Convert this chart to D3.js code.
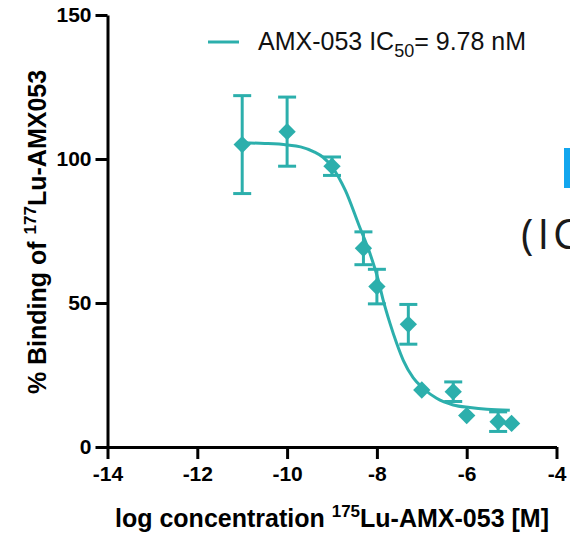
<!DOCTYPE html>
<html>
<head>
<meta charset="utf-8">
<script src="https://cdn.jsdelivr.net/npm/d3@7"></script>
<style>
    html, body { margin: 0; padding: 0; background: #fff; overflow: hidden; }
    svg { display: block; }
</style>
</head>
<body>
<div id="chart"></div>
<script>
// measured points: log concentration vs % binding (mean, error; 0 = bar hidden by marker)
const logConc = [-11, -10, -9, -8.3, -8, -7.3, -7, -6.3, -6, -5.3, -5];
const binding = [105, 109.5, 97.5, 69, 55.7, 42.6, 19.8, 19.2, 10.9, 8.8, 8.2];
const errBar = [17, 12, 3.2, 5.7, 6, 6.9, 0, 3.4, 0, 3.4, 0];

// fitted curve
const curveX = [-11, -10.5, -10, -9.7, -9.4, -9.2, -9, -8.7, -8.4, -8.15, -7.97, -7.86, -7.71, -7.56, -7.41, -7.19, -6.97, -6.67, -6.3, -5.93, -5.55, -5.04];
const curveY = [105.6, 105.4, 104.9, 104.2, 102.5, 100.6, 97.3, 89, 77, 67, 58, 51, 43, 36, 30, 24, 20.4, 16.9, 14.6, 13.7, 13.1, 12.8];

const xTicks = [-14, -12, -10, -8, -6, -4];
const yTicks = [0, 50, 100, 150];

const teal = '#2cafac';
const font = '"Liberation Sans", Arial, Helvetica, sans-serif';

const width = 570;
const height = 535;

const svg = d3.select('#chart')
    .append('svg')
    .attr('width', width)
    .attr('height', height)
    .style('font-family', font);

const xScale = d3.scaleLinear().domain([-14, -4]).range([107.5, 556.5]);
const yScale = d3.scaleLinear().domain([0, 150]).range([447, 15]);

// axes (plain hyphen for negatives, like the original)
const xAxis = svg.append('g')
    .attr('transform', `translate(0,${yScale(0)})`)
    .call(d3.axisBottom(xScale).tickValues(xTicks).tickFormat((d) => String(d))
        .tickSize(12).tickSizeOuter(0).tickPadding(7));

const yAxis = svg.append('g')
    .attr('transform', `translate(${xScale(-14)},0)`)
    .call(d3.axisLeft(yScale).tickValues(yTicks).tickFormat((d) => String(d))
        .tickSize(12).tickSizeOuter(0).tickPadding(4));

[xAxis, yAxis].forEach((ax) => {
    ax.select('.domain').attr('stroke', '#000').attr('stroke-width', 3);
    ax.selectAll('.tick line').attr('stroke', '#000').attr('stroke-width', 3);
    ax.selectAll('.tick text')
        .attr('fill', '#000')
        .style('font-family', font)
        .style('font-size', '21px')
        .style('font-weight', 'bold');
});

// axis titles
const xTitle = svg.append('text')
    .attr('x', (xScale(-14) + xScale(-4)) / 2)
    .attr('y', 527)
    .attr('text-anchor', 'middle')
    .style('font-size', '25px')
    .style('font-weight', 'bold');
xTitle.append('tspan').text('log concentration ');
xTitle.append('tspan').attr('dy', -10).style('font-size', '17px').text('175');
xTitle.append('tspan').attr('dy', 10).text('Lu-AMX-053 [M]');

const yTitle = svg.append('text')
    .attr('transform', `translate(46,${(yScale(0) + yScale(150)) / 2 + 1}) rotate(-90)`)
    .attr('text-anchor', 'middle')
    .style('font-size', '25px')
    .style('font-weight', 'bold');
yTitle.append('tspan').text('% Binding of ');
yTitle.append('tspan').attr('dy', -10).style('font-size', '17px').text('177');
yTitle.append('tspan').attr('dy', 10).text('Lu-AMX053');

// fitted curve
const line = d3.line()
    .x((d) => xScale(d[0]))
    .y((d) => yScale(d[1]))
    .curve(d3.curveMonotoneX);

svg.append('path')
    .datum(curveX.map((x, i) => [x, curveY[i]]))
    .attr('fill', 'none')
    .attr('stroke', teal)
    .attr('stroke-width', 3)
    .attr('d', line);

// error bars
const pts = logConc.map((x, i) => ({ x: x, y: binding[i], e: errBar[i] }));
const bars = svg.append('g').attr('stroke', teal).attr('stroke-width', 3);
pts.filter((p) => p.e > 0).forEach((p) => {
    const cx = xScale(p.x);
    bars.append('line')
        .attr('x1', cx).attr('x2', cx)
        .attr('y1', yScale(p.y + p.e)).attr('y2', yScale(p.y - p.e));
    [p.y + p.e, p.y - p.e].forEach((v) => {
        bars.append('line')
            .attr('x1', cx - 9).attr('x2', cx + 9)
            .attr('y1', yScale(v)).attr('y2', yScale(v));
    });
});

// diamonds
const diamond = d3.symbol().type(d3.symbolSquare).size(150);
svg.append('g')
    .selectAll('path')
    .data(pts)
    .enter()
    .append('path')
    .attr('d', diamond)
    .attr('transform', (d) => `translate(${xScale(d.x)},${yScale(d.y)}) rotate(45)`)
    .attr('fill', teal);

// legend
svg.append('line')
    .attr('x1', 208).attr('x2', 239)
    .attr('y1', 42).attr('y2', 42)
    .attr('stroke', teal)
    .attr('stroke-width', 3);

const legendText = svg.append('text')
    .attr('x', 258)
    .attr('y', 50)
    .attr('fill', '#111')
    .style('font-size', '25px');
legendText.append('tspan').text('AMX-053 IC');
legendText.append('tspan').attr('dy', 7).style('font-size', '18px').text('50');
legendText.append('tspan').attr('dy', -7).text('= 9.78 nM');

// pieces of the neighbouring panel cut by the crop
svg.append('rect')
    .attr('x', 564).attr('y', 148)
    .attr('width', 8).attr('height', 40)
    .attr('fill', '#12a6ee');

svg.append('text')
    .attr('x', 521)
    .attr('y', 249)
    .attr('fill', '#1a1a1a')
    .style('font-family', '"Open Sans", "Noto Sans", sans-serif')
    .style('font-size', '42px')
    .style('letter-spacing', '4px')
    .text('(IC');
</script>
</body>
</html>
